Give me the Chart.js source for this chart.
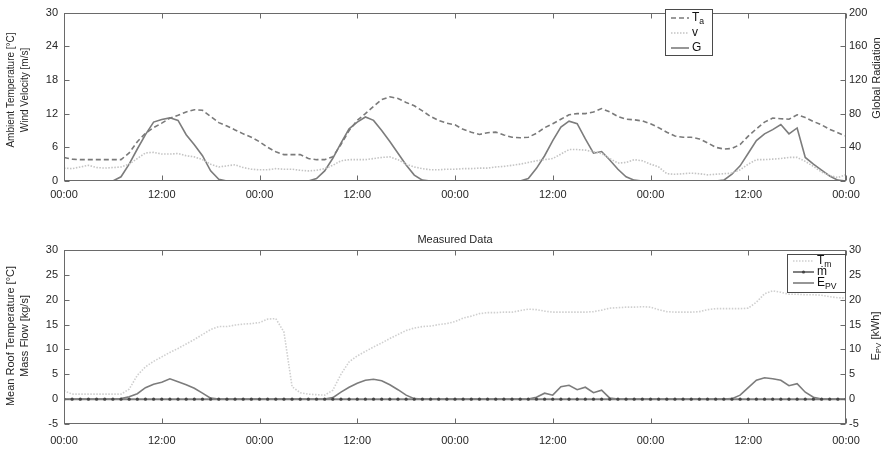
<!DOCTYPE html>
<html>
<head>
<meta charset="utf-8">
<script src="https://cdn.jsdelivr.net/npm/chart.js@4.4.1/dist/chart.umd.min.js"></script>
<style>
body { margin: 0; background: #fff; }
#wrap { position: relative; width: 885px; height: 449px; }
canvas { position: absolute; left: 0; }
</style>
</head>
<body>
<div id="wrap">
  <canvas id="topChart" width="885" height="200" style="top:0;width:885px;height:200px"></canvas>
  <canvas id="bottomChart" width="885" height="249" style="top:200px;width:885px;height:249px"></canvas>
</div>
<script>
// Hourly samples over four days (0 .. 96 h)
const hours = Array.from({ length: 97 }, (_, i) => i);
const tickLabels = ['00:00', '12:00'];

// Top panel: ambient temperature [°C], wind velocity [m/s], global radiation (right axis)
const ambientTemp = [
  4.2, 3.9, 3.8, 3.8, 3.8, 3.8, 3.8, 3.8, 5.0, 7.0, 8.5, 9.5,
  10.3, 11.2, 11.7, 12.3, 12.7, 12.6, 11.5, 10.4, 9.8, 9.1, 8.4, 7.8,
  7.0, 6.0, 5.2, 4.7, 4.7, 4.7, 4.0, 3.8, 3.8, 4.3, 6.5, 9.0,
  10.8, 12.0, 13.3, 14.5, 15.0, 14.7, 14.0, 13.4, 12.5, 11.5, 10.8, 10.3,
  10.0, 9.2, 8.7, 8.3, 8.6, 8.7, 8.2, 7.8, 7.7, 7.8, 8.5, 9.5,
  10.2, 11.0, 11.8, 12.0, 12.0, 12.3, 12.9, 12.3, 11.5, 11.0, 10.9, 10.7,
  10.2, 9.5, 8.7, 8.0, 7.8, 7.8, 7.5, 6.8, 6.0, 5.7, 5.8, 6.5,
  8.0, 9.3, 10.5, 11.2, 11.1, 11.0, 11.8, 11.3, 10.6, 10.0, 9.2, 8.6,
  8.0
];
const windVelocity = [
  2.3, 2.2, 2.5, 2.8, 2.4, 2.3, 2.4, 2.5, 3.0, 4.0, 5.0, 5.1,
  4.8, 4.8, 4.9, 4.5, 4.3, 3.8, 3.0, 2.5, 2.7, 2.9, 2.4, 2.1,
  2.0, 2.0, 2.2, 2.1, 2.1, 1.9, 1.8, 1.9, 2.2, 2.8, 3.6, 3.8,
  3.8, 3.8, 4.0, 4.2, 4.3, 3.8, 3.0, 2.5, 2.2, 2.0, 2.0, 2.1,
  2.1, 2.2, 2.2, 2.3, 2.3, 2.5, 2.6, 2.8, 3.0, 3.3, 3.6, 3.8,
  4.0, 4.8, 5.6, 5.6, 5.5, 5.2, 4.9, 4.0, 3.2, 3.3, 3.8, 3.6,
  3.0, 2.5, 1.3, 1.2, 1.3, 1.4, 1.3, 1.1, 1.2, 1.3, 1.4, 2.0,
  3.0, 3.8, 3.8, 3.9, 4.0, 4.2, 4.2, 3.5, 2.6, 1.6, 1.0, 0.6,
  1.1
];
const globalRadiation = [
  0, 0, 0, 0, 0, 0, 0, 5, 20, 38, 55, 70,
  73, 75, 72, 55, 43, 30, 12, 2, 0, 0, 0, 0,
  0, 0, 0, 0, 0, 0, 0, 3, 12, 27, 45, 62,
  70, 76, 72, 60, 47, 33, 19, 7, 1, 0, 0, 0,
  0, 0, 0, 0, 0, 0, 0, 0, 0, 3, 15, 30,
  48, 64, 71, 68, 50, 33, 35, 25, 14, 5, 1, 0,
  0, 0, 0, 0, 0, 0, 0, 0, 0, 1, 8, 18,
  33, 48, 56, 61, 67, 56, 63, 28, 20, 13, 6, 1,
  0
];

// Bottom panel: mean roof temperature [°C], mass flow [kg/s], PV energy [kWh]
const roofTemp = [
  1.7, 1.0, 1.0, 1.0, 1.0, 1.0, 1.0, 1.0, 2.0, 4.8, 6.5, 7.6,
  8.5, 9.4, 10.2, 11.1, 12.0, 13.0, 14.0, 14.6, 14.6, 14.9, 15.1, 15.2,
  15.4, 16.1, 16.2, 13.5, 2.5, 1.3, 1.0, 0.9, 0.8, 1.8, 5.0, 7.5,
  8.7, 9.6, 10.5, 11.3, 12.2, 13.0, 13.8, 14.3, 14.6, 14.7, 15.0, 15.2,
  15.6, 16.3, 16.7, 17.2, 17.4, 17.4, 17.5, 17.5, 17.8, 18.1, 18.0, 17.7,
  17.5, 17.5, 17.5, 17.5, 17.5, 17.6, 17.9, 18.3, 18.4, 18.5, 18.5, 18.6,
  18.5, 18.0, 17.6, 17.5, 17.5, 17.5, 17.6, 18.0, 18.2, 18.2, 18.2, 18.2,
  18.3, 19.5, 21.2, 21.8, 21.5, 21.1, 21.1, 21.0, 21.0, 20.9, 20.6, 20.4,
  20.3
];
const massFlow = [
  0, 0, 0, 0, 0, 0, 0, 0, 0, 0, 0, 0,
  0, 0, 0, 0, 0, 0, 0, 0, 0, 0, 0, 0,
  0, 0, 0, 0, 0, 0, 0, 0, 0, 0, 0, 0,
  0, 0, 0, 0, 0, 0, 0, 0, 0, 0, 0, 0,
  0, 0, 0, 0, 0, 0, 0, 0, 0, 0, 0, 0,
  0, 0, 0, 0, 0, 0, 0, 0, 0, 0, 0, 0,
  0, 0, 0, 0, 0, 0, 0, 0, 0, 0, 0, 0,
  0, 0, 0, 0, 0, 0, 0, 0, 0, 0, 0, 0,
  0
];
const pvEnergy = [
  0, 0, 0, 0, 0, 0, 0, 0.1, 0.5, 1.1, 2.3, 3.0,
  3.4, 4.1, 3.5, 2.9, 2.2, 1.2, 0.2, 0, 0, 0, 0, 0,
  0, 0, 0, 0, 0, 0, 0, 0, 0, 0.3, 1.4, 2.4,
  3.2, 3.8, 4.0, 3.7, 2.9, 1.9, 0.8, 0.1, 0, 0, 0, 0,
  0, 0, 0, 0, 0, 0, 0, 0, 0, 0, 0.4, 1.2,
  0.8, 2.5, 2.8, 1.9, 2.4, 1.3, 1.8, 0.2, 0, 0, 0, 0,
  0, 0, 0, 0, 0, 0, 0, 0, 0, 0, 0.1, 0.8,
  2.3, 3.8, 4.3, 4.1, 3.8, 2.7, 3.1, 1.4, 0.4, 0, 0, 0,
  0
];

const FONT = "'Liberation Sans', Arial, sans-serif";
const TEXT = '#262626';

function xy(values) {
  return values.map((v, i) => ({ x: hours[i], y: v }));
}

// Texto com subscrito, desenhado a partir de (x, y) alinhado à esquerda
function subText(ctx, parts, x, y, size) {
  let cx = x;
  parts.forEach(p => {
    const s = p.sub ? size * 0.72 : size;
    ctx.font = s + 'px ' + FONT;
    ctx.fillText(p.t, cx, p.sub ? y + size * 0.3 : y);
    cx += ctx.measureText(p.t).width;
  });
  return cx - x;
}
function subWidth(ctx, parts, size) {
  let w = 0;
  parts.forEach(p => {
    ctx.font = (p.sub ? size * 0.72 : size) + 'px ' + FONT;
    w += ctx.measureText(p.t).width;
  });
  return w;
}

// Moldura, ticks internos, títulos dos eixos e legenda
const decor = {
  id: 'decor',
  afterDraw(chart, args, opts) {
    const ctx = chart.ctx;
    const a = chart.chartArea;
    const L = Math.round(a.left) + 0.5, R = Math.round(a.right) - 0.5;
    const T = Math.round(a.top) + 0.5, B = Math.round(a.bottom) - 0.5;
    ctx.save();
    ctx.strokeStyle = '#6a6a6a';
    ctx.lineWidth = 1;
    ctx.setLineDash([]);
    ctx.strokeRect(L, T, R - L, B - T);

    const seg = (x1, y1, x2, y2) => { ctx.beginPath(); ctx.moveTo(x1, y1); ctx.lineTo(x2, y2); ctx.stroke(); };
    const tl = 5;
    chart.scales.x.ticks.forEach(t => {
      const px = Math.round(chart.scales.x.getPixelForValue(t.value)) + 0.5;
      seg(px, T, px, T + tl);
      seg(px, B, px, B - tl);
    });
    chart.scales.y.ticks.forEach(t => {
      const py = Math.round(chart.scales.y.getPixelForValue(t.value)) + 0.5;
      seg(L, py, L + tl, py);
    });
    chart.scales.y1.ticks.forEach(t => {
      const py = Math.round(chart.scales.y1.getPixelForValue(t.value)) + 0.5;
      seg(R, py, R - tl, py);
    });

    ctx.fillStyle = TEXT;
    ctx.textBaseline = 'middle';

    // títulos à esquerda (duas linhas, rotacionados)
    ctx.font = opts.leftSize + 'px ' + FONT;
    ctx.textAlign = 'center';
    opts.leftTitle.forEach((txt, i) => {
      ctx.save();
      ctx.translate(11 + i * 14, opts.leftY);
      ctx.rotate(-Math.PI / 2);
      ctx.fillText(txt, 0, 0);
      ctx.restore();
    });

    // título à direita
    ctx.save();
    ctx.translate(opts.rightX, opts.rightY);
    ctx.rotate(-Math.PI / 2);
    ctx.textAlign = 'left';
    const w = subWidth(ctx, opts.rightTitle, 11);
    subText(ctx, opts.rightTitle, -w / 2, 0, 11);
    ctx.restore();

    if (opts.title) {
      ctx.font = '11px ' + FONT;
      ctx.textAlign = 'center';
      ctx.fillText(opts.title, (a.left + a.right) / 2, a.top - 10);
    }

    // legenda
    const lg = opts.legend;
    ctx.fillStyle = '#fff';
    ctx.fillRect(lg.x, lg.y, lg.w, lg.h);
    ctx.strokeStyle = '#4a4a4a';
    ctx.strokeRect(lg.x + 0.5, lg.y + 0.5, lg.w, lg.h);
    lg.items.forEach((it, i) => {
      const ds = chart.data.datasets[it.ds];
      const yy = lg.y + lg.first + i * lg.step;
      ctx.strokeStyle = ds.borderColor;
      ctx.lineWidth = ds.borderWidth;
      ctx.setLineDash(ds.borderDash || []);
      seg(lg.x + 6, yy, lg.x + lg.lineLen, yy);
      ctx.setLineDash([]);
      if (ds.pointRadius > 0) {
        ctx.fillStyle = ds.pointBackgroundColor;
        ctx.beginPath();
        ctx.arc(lg.x + 6 + (lg.lineLen - 6) / 2, yy, ds.pointRadius, 0, Math.PI * 2);
        ctx.fill();
      }
      ctx.fillStyle = '#111';
      ctx.textAlign = 'left';
      subText(ctx, it.label, lg.x + lg.lineLen + 3, yy, 12);
    });
    ctx.restore();
  }
};

function xScale(pad, height) {
  return {
    type: 'linear', min: 0, max: 96,
    grid: { display: false, drawTicks: false },
    border: { display: false },
    ticks: {
      stepSize: 12, padding: pad, color: TEXT, font: { size: 11, family: FONT },
      maxRotation: 0,
      callback: v => tickLabels[(v / 12) % 2]
    },
    afterFit: s => { s.height = height; }
  };
}
function yScale(pos, min, max, step, width, pad) {
  return {
    type: 'linear', position: pos, min: min, max: max,
    grid: { display: false, drawTicks: false },
    border: { display: false },
    ticks: { stepSize: step, padding: pad, color: TEXT, font: { size: 11, family: FONT } },
    afterFit: s => { s.width = width; }
  };
}

const baseOpts = {
  responsive: false,
  animation: false,
  devicePixelRatio: 1,
  elements: { line: { tension: 0 }, point: { radius: 0 } },
  plugins: { legend: { display: false }, tooltip: { enabled: false } }
};

new Chart(document.getElementById('topChart'), {
  type: 'line',
  data: {
    datasets: [
      { label: 'Ta', data: xy(ambientTemp), yAxisID: 'y', borderColor: '#7a7a7a', borderWidth: 1.6, borderDash: [5, 3], pointRadius: 0 },
      { label: 'v', data: xy(windVelocity), yAxisID: 'y', borderColor: '#c4c4c4', borderWidth: 1.6, borderDash: [1.5, 1.5], pointRadius: 0 },
      { label: 'G', data: xy(globalRadiation), yAxisID: 'y1', borderColor: '#7c7c7c', borderWidth: 1.6, pointRadius: 0 }
    ]
  },
  options: Object.assign({}, baseOpts, {
    layout: { padding: { top: 8, left: 0, right: 0, bottom: 0 } },
    scales: {
      x: xScale(7, 19),
      y: yScale('left', 0, 30, 6, 64, 6),
      y1: yScale('right', 0, 200, 40, 39, 3)
    },
    plugins: Object.assign({}, baseOpts.plugins, {
      decor: {
        leftTitle: ['Ambient Temperature [°C]', 'Wind Velocity [m/s]'],
        leftSize: 10, leftY: 90,
        rightTitle: [{ t: 'Global Radiation' }],
        rightX: 877, rightY: 78,
        legend: {
          x: 665, y: 9, w: 47, h: 46, first: 9, step: 15, lineLen: 24,
          items: [
            { ds: 0, label: [{ t: 'T' }, { t: 'a', sub: true }] },
            { ds: 1, label: [{ t: 'v' }] },
            { ds: 2, label: [{ t: 'G' }] }
          ]
        }
      }
    })
  }),
  plugins: [decor]
});

new Chart(document.getElementById('bottomChart'), {
  type: 'line',
  data: {
    datasets: [
      { label: 'Tm', data: xy(roofTemp), yAxisID: 'y', borderColor: '#cfcfcf', borderWidth: 1.6, borderDash: [1.5, 1.5], pointRadius: 0 },
      { label: 'm', data: xy(massFlow), yAxisID: 'y', borderColor: '#808080', borderWidth: 2, pointRadius: 1.6, pointBackgroundColor: '#444', pointBorderWidth: 0 },
      { label: 'EPV', data: xy(pvEnergy), yAxisID: 'y1', borderColor: '#7c7c7c', borderWidth: 1.6, pointRadius: 0 }
    ]
  },
  options: Object.assign({}, baseOpts, {
    layout: { padding: { top: 50, left: 0, right: 0, bottom: 0 } },
    scales: {
      x: xScale(10, 25),
      y: yScale('left', -5, 30, 5, 64, 6),
      y1: yScale('right', -5, 30, 5, 39, 3)
    },
    plugins: Object.assign({}, baseOpts.plugins, {
      decor: {
        leftTitle: ['Mean Roof Temperature [°C]', 'Mass Flow [kg/s]'],
        leftSize: 11, leftY: 136,
        rightTitle: [{ t: 'E' }, { t: 'PV', sub: true }, { t: ' [kWh]' }],
        rightX: 876, rightY: 136,
        title: 'Measured Data',
        legend: {
          x: 787, y: 54, w: 58, h: 38, first: 7, step: 11, lineLen: 27,
          items: [
            { ds: 0, label: [{ t: 'T' }, { t: 'm', sub: true }] },
            { ds: 1, label: [{ t: 'ṁ' }] },
            { ds: 2, label: [{ t: 'E' }, { t: 'PV', sub: true }] }
          ]
        }
      }
    })
  }),
  plugins: [decor]
});
</script>
</body>
</html>
